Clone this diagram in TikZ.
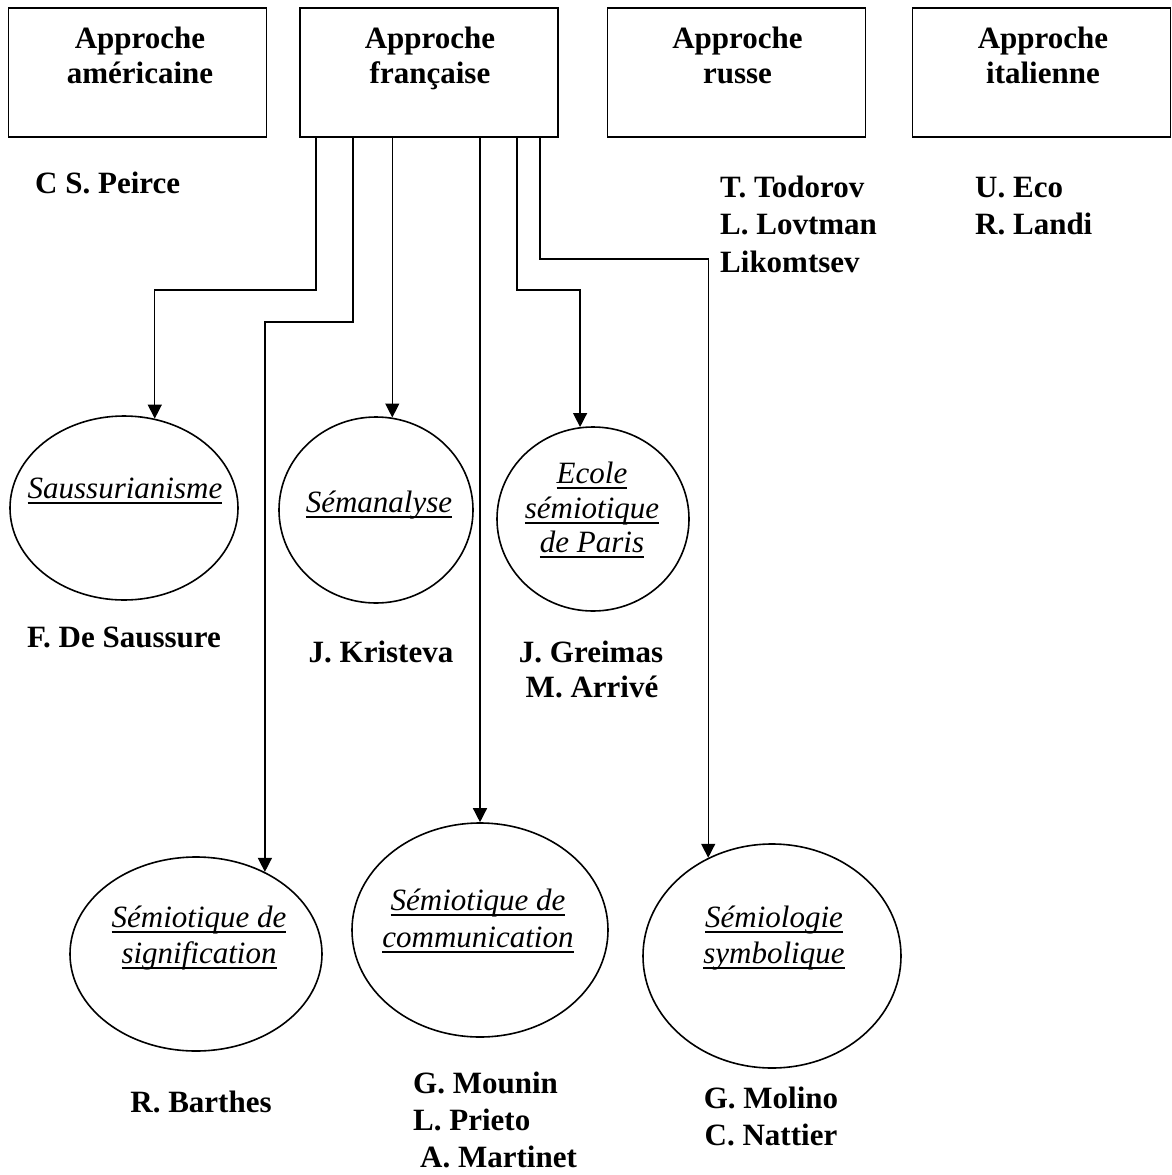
\documentclass[tikz,border=0pt]{standalone}
\usepackage{fontspec}
\setmainfont{Liberation Serif}
\usetikzlibrary{shapes.geometric,arrows.meta}
\def\myul#1{\setbox0\hbox{#1}\rlap{\vrule width\wd0 height -3.5pt depth 5.5pt}\box0}
\begin{document}
\begin{tikzpicture}[x=1pt,y=-1pt,
  apbox/.style={draw,line width=1.4pt,minimum width=258pt,minimum height=129pt,inner sep=0pt},
  oval/.style={draw,ellipse,line width=1.6pt,inner sep=0pt},
  bt/.style={anchor=base,inner sep=0pt,font=\fontsize{31}{36}\selectfont\bfseries},
  btl/.style={anchor=base west,inner sep=0pt,font=\fontsize{31}{36}\selectfont\bfseries},
  it/.style={anchor=base,inner sep=0pt,font=\fontsize{31}{36}\selectfont\itshape},
  arr/.style={line width=1.4pt,-{Triangle[length=14pt,width=14pt]}}]
\useasboundingbox (0,0) rectangle (1172,1175);
% boxes
\node[apbox] (am) at (137.5,72.5) {};
\node[apbox] (fr) at (429,72.5) {};
\node[apbox] (ru) at (736.5,72.5) {};
\node[apbox] (ita) at (1041.5,72.5) {};
\node[bt] (am1) at (140,48) {Approche};
\node[bt] (am2) at (140,83) {américaine};
\node[bt] (fr1) at (430,48) {Approche};
\node[bt] (fr2) at (430,83) {française};
\node[bt] (ru1) at (737.5,48) {Approche};
\node[bt] (ru2) at (737.5,83) {russe};
\node[bt] (it1) at (1043,48) {Approche};
\node[bt] (it2) at (1043,83) {italienne};
% people top
\node[btl] (peirce) at (35,193) {C S. Peirce};
\node[btl] (todorov) at (720,197) {T. Todorov};
\node[btl] (lovtman) at (720,234) {L. Lovtman};
\node[btl] (likomtsev) at (720,272) {Likomtsev};
\node[btl] (eco) at (975,197) {U. Eco};
\node[btl] (landi) at (975,234) {R. Landi};
% ellipses
\node[oval,minimum width=228pt,minimum height=184pt] (sauss) at (124,508) {};
\node[oval,minimum width=194pt,minimum height=186pt] (seman) at (376,510) {};
\node[oval,minimum width=192pt,minimum height=184pt] (ecole) at (593,519) {};
\node[oval,minimum width=252pt,minimum height=194pt] (signif) at (196,954) {};
\node[oval,minimum width=256pt,minimum height=214pt] (comm) at (480,930) {};
\node[oval,minimum width=258pt,minimum height=224pt] (semio) at (772,956) {};
% ellipse texts
\node[it] (t1) at (125,498) {\myul{Saussurianisme}};
\node[it] (t2) at (379,512) {\myul{Sémanalyse}};
\node[it] (t3a) at (592,483) {\myul{Ecole}};
\node[it] (t3b) at (592,518) {\myul{sémiotique}};
\node[it] (t3c) at (592,552) {\myul{de Paris}};
\node[it] (t4a) at (199,927) {\myul{Sémiotique de}};
\node[it] (t4b) at (199,963) {\myul{signification}};
\node[it] (t5a) at (478,910) {\myul{Sémiotique de}};
\node[it] (t5b) at (478,947) {\myul{communication}};
\node[it] (t6a) at (774,927) {\myul{Sémiologie}};
\node[it] (t6b) at (774,963) {\myul{symbolique}};
% people bottom
\node[bt] (saussure) at (124,647) {F. De Saussure};
\node[bt] (kristeva) at (381,662) {J. Kristeva};
\node[bt] (greimas) at (591,662) {J. Greimas};
\node[bt] (arrive) at (592,697) {M. Arrivé};
\node[bt] (barthes) at (201,1112) {R. Barthes};
\node[btl] (mounin) at (413,1093) {G. Mounin};
\node[btl] (prieto) at (413,1130) {L. Prieto};
\node[btl] (martinet) at (420,1167) {A. Martinet};
\node[bt] (molino) at (771,1108) {G. Molino};
\node[bt] (nattier) at (771,1145) {C. Nattier};
% connectors
\draw[arr] (fr.south -| 316,0) -- (316,290) -| (sauss.71.3);
\draw[arr] (fr.south -| 353,0) -- (353,322) -| (signif.50.8);
\draw[arr] (fr.south -| seman.80.7) -- (seman.80.7);
\draw[arr] (fr.south -| comm.north) -- (comm.north);
\draw[arr] (fr.south -| 517,0) -- (517,290) -| (ecole.98.75);
\draw[arr] (fr.south -| 540,0) -- (540,259) -| (semio.123.35);
\end{tikzpicture}
\end{document}
